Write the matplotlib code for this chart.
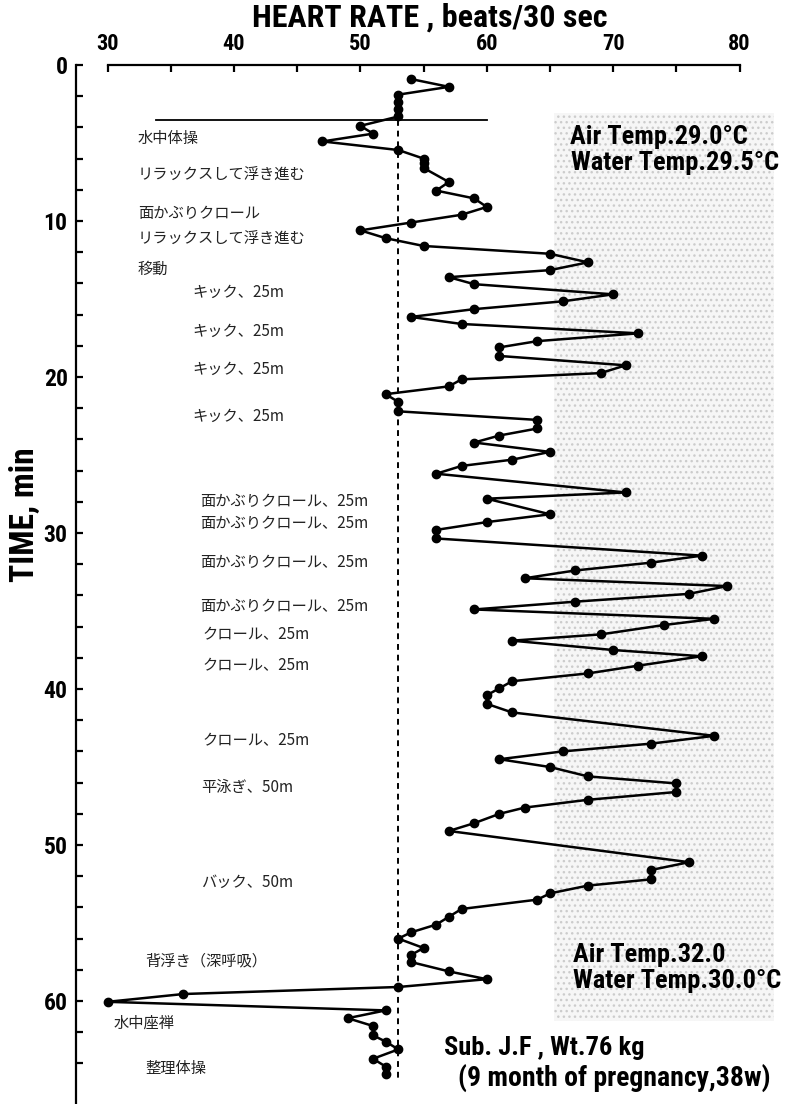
import matplotlib
matplotlib.use("Agg")
import matplotlib.pyplot as plt
from matplotlib.patches import Rectangle

# heart rate (beats / 30 s), one point per ~30 s
time_min = [0.9, 1.4, 1.9, 2.35, 2.8, 3.3, 3.9, 4.4, 4.9, 5.45,
            6.0, 6.3, 6.6, 7.5, 8.05, 8.55, 9.1, 9.6, 10.1, 10.6,
            11.1, 11.6, 12.1, 12.65, 13.15, 13.6, 14.05, 14.7, 15.15, 15.65,
            16.15, 16.6, 17.2, 17.7, 18.1, 18.65, 19.25, 19.75, 20.15, 20.6,
            21.1, 21.6, 22.2, 22.75, 23.3, 23.75, 24.2, 24.8, 25.3, 25.7,
            26.2, 27.4, 27.8, 28.8, 29.3, 29.8, 30.35, 31.45, 31.9, 32.4,
            32.9, 33.4, 33.9, 34.4, 34.9, 35.5, 35.9, 36.5, 36.9, 37.5,
            37.9, 38.5, 39.0, 39.5, 39.95, 40.4, 40.95, 41.5, 43.0, 43.5,
            44.0, 44.5, 45.0, 45.6, 46.05, 46.6, 47.1, 47.6, 48.0, 48.6,
            49.1, 51.1, 51.6, 52.2, 52.6, 53.1, 53.5, 54.1, 54.6, 55.1,
            55.6, 56.0, 56.6, 57.05, 57.5, 58.1, 58.6, 59.1, 59.55, 60.05,
            60.6, 61.1, 61.6, 62.2, 62.6, 63.1, 63.7, 64.2, 64.7]
heart_rate = [54, 57, 53, 53, 53, 53, 50, 51, 47, 53,
              55, 55, 55, 57, 56, 59, 60, 58, 54, 50,
              52, 55, 65, 68, 65, 57, 59, 70, 66, 59,
              54, 58, 72, 64, 61, 61, 71, 69, 58, 57,
              52, 53, 53, 64, 64, 61, 59, 65, 62, 58,
              56, 71, 60, 65, 60, 56, 56, 77, 73, 67,
              63, 79, 76, 67, 59, 78, 74, 69, 62, 70,
              77, 72, 68, 62, 61, 60, 60, 62, 78, 73,
              66, 61, 65, 68, 75, 75, 68, 63, 61, 59,
              57, 76, 73, 73, 68, 65, 64, 58, 57, 56,
              54, 53, 55, 54, 54, 57, 60, 53, 36, 30,
              52, 49, 51, 51, 52, 53, 51, 52, 52]

resting_hr = 53          # dashed reference line
start_marker = 3.5       # horizontal line at start of exercise

# activity labels (text, x, y)
activities = [
    ("水中体操", 32.4, 4.7),
    ("リラックスして浮き進む", 32.4, 7.1),
    ("面かぶりクロール", 32.4, 9.5),
    ("リラックスして浮き進む", 32.4, 11.2),
    ("移動", 32.4, 13.1),
    ("キック、25m", 36.7, 14.6),
    ("キック、25m", 36.7, 17.1),
    ("キック、25m", 36.7, 19.5),
    ("キック、25m", 36.7, 22.5),
    ("面かぶりクロール、25m", 37.3, 28.0),
    ("面かぶりクロール、25m", 37.3, 29.4),
    ("面かぶりクロール、25m", 37.3, 31.9),
    ("面かぶりクロール、25m", 37.3, 34.7),
    ("クロール、25m", 37.5, 36.5),
    ("クロール、25m", 37.5, 38.5),
    ("クロール、25m", 37.5, 43.3),
    ("平泳ぎ、50m", 37.4, 46.3),
    ("バック、50m", 37.4, 52.4),
    ("背浮き（深呼吸）", 33.0, 57.4),
    ("水中座禅", 30.5, 61.4),
    ("整理体操", 33.0, 64.3),
]

cond = ["Roboto Condensed", "Roboto", "DejaVu Sans"]
bold = dict(family=cond, fontweight="bold")
jp = dict(family=["Noto Sans CJK JP", "DejaVu Sans"])

fig = plt.figure(figsize=(7.92, 11.04), dpi=100)
ax = fig.add_axes([76 / 792, 0, 701.5 / 792, 1039 / 1104])
ax.set_xlim(27.5, 83.0)
ax.set_ylim(66.6, 0)

# stippled background on the right
ax.add_patch(Rectangle((65.3, 3.1), 17.4, 58.2, facecolor="#f6f6f6",
                       edgecolor="#cccccc", hatch="...", lw=0, zorder=0))

ax.plot(heart_rate, time_min, color="black", lw=1.8, marker="o",
        markersize=6, zorder=3)
ax.plot([resting_hr, resting_hr], [start_marker, 65], color="black", lw=1.4,
        linestyle=(0, (3, 2.5)), zorder=2)
ax.plot([33.8, 60.0], [start_marker, start_marker], color="black", lw=1.3, zorder=2)

for s in ["right", "bottom"]:
    ax.spines[s].set_visible(False)
ax.spines["top"].set_bounds(30, 80)
ax.spines["top"].set_linewidth(1.6)
ax.spines["left"].set_linewidth(1.6)

ax.xaxis.tick_top()
ax.set_xticks(range(30, 81, 10))
ax.set_xticks(range(35, 80, 10), minor=True)
ax.set_yticks(range(0, 61, 10))
ax.set_yticks(range(2, 66, 2), minor=True)
ax.tick_params(which="both", direction="in", length=5, width=1.6)
ax.tick_params(axis="x", which="major", pad=7, labelsize=16)
ax.tick_params(axis="y", which="major", pad=6, labelsize=17)
for lab in ax.get_xticklabels() + ax.get_yticklabels():
    lab.set_fontfamily(cond)
    lab.set_fontweight("bold")

for txt, x, y in activities:
    ax.text(x, y, txt, fontsize=11, va="center", ha="left", color="#222222", **jp)

ax.text(66.6, 4.6, "Air Temp.29.0°C", fontsize=19, va="center", **bold)
ax.text(66.7, 6.3, "Water Temp.29.5°C", fontsize=19, va="center", **bold)
ax.text(66.8, 57.05, "Air Temp.32.0", fontsize=19, va="center", **bold)
ax.text(66.8, 58.7, "Water Temp.30.0°C", fontsize=19, va="center", **bold)
ax.text(56.6, 63.0, "Sub. J.F , Wt.76 kg", fontsize=19, va="center", **bold)
ax.text(57.7, 64.9, "(9 month of pregnancy,38w)", fontsize=20, va="center", **bold)

fig.text(430 / 792, 1 - 18 / 1104, "HEART RATE , beats/30 sec", fontsize=23,
         ha="center", va="center", **bold)
fig.text(25 / 792, 1 - 515 / 1104, "TIME, min", fontsize=24, rotation=90,
         ha="center", va="center", **bold)

fig.savefig("out.png", dpi=100)
